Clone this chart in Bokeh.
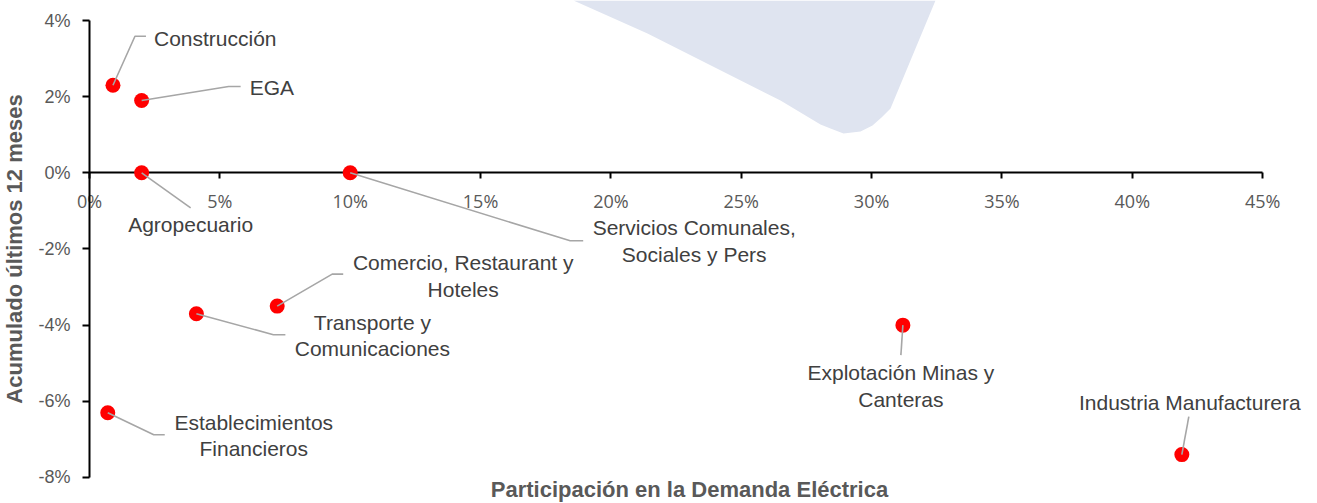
from bokeh.plotting import figure
from bokeh.models import FixedTicker, PrintfTickFormatter, Label
from bokeh.core.properties import value
from bokeh.embed import file_html
from bokeh.resources import INLINE

# ---------------- data ----------------
sectors = [
    "Construcción",
    "EGA",
    "Agropecuario",
    "Servicios Comunales,\nSociales y Pers",
    "Comercio, Restaurant y\nHoteles",
    "Transporte y\nComunicaciones",
    "Establecimientos\nFinancieros",
    "Explotación Minas y\nCanteras",
    "Industria Manufacturera",
]
participation = [0.9, 2.0, 2.0, 10.0, 7.2, 4.1, 0.7, 31.2, 41.9]   # % share of electricity demand
growth = [2.3, 1.9, 0.0, 0.0, -3.5, -3.7, -6.3, -4.0, -7.4]          # % accumulated last 12 months
x_ticks = [0, 5, 10, 15, 20, 25, 30, 35, 40, 45]
y_ticks = [-8, -6, -4, -2, 0, 2, 4]

# ---------------- layout (pixels) ----------------
W, H = 1317, 503
X0 = 89                 # canvas x of the 0 % value
PX_X = 26.07            # pixels per 1 % on x
PX_Y = 38.08            # pixels per 1 % on y
TOP4 = 20               # canvas y of the 4 % tick
x_start = -X0 / PX_X
x_end = (W - X0) / PX_X
y_end = 4 + TOP4 / PX_Y
y_start = y_end - H / PX_Y

# label leader geometry as pixel offsets from each point (dx right, dy down)
elbow_off = [(22, -49), (87, -14), (49, 35), (220, 68), (55, -32), (77, 21), (46, 22), (-2, 30), (7, -38)]
end_off = [(33, -49), (99, -14), (49, 35), (233, 68), (66, -32), (89, 21), (57, 22), (-2, 30), (7, -38)]
text_off = [(41, -47), (108, -13), (49, 52), (344, 68), (186, -30), (176, 22), (146, 23), (-2, 61), (8, -52)]
text_align = ["left", "left", "center", "center", "center", "center", "center", "center", "center"]

def dx(px):
    return px / PX_X

def dy(py):
    return -py / PX_Y

p = figure(width=W, height=H, output_backend="svg", toolbar_location=None,
           x_range=(x_start, x_end), y_range=(y_start, y_end),
           min_border_left=0, min_border_right=0, min_border_top=0, min_border_bottom=0)
p.outline_line_color = None
p.grid.visible = False
p.background_fill_color = "white"
p.border_fill_color = "white"

# background watermark shape (image pixel outline converted to data space)
wm_px = [(573, 0), (647, 33), (780, 100), (820, 124), (830, 128), (843, 133), (860, 131),
         (872, 125), (881, 117), (890, 108), (935, 0)]
wm_x = [x_start + px / PX_X for px, py in wm_px]
wm_y = [y_end - py / PX_Y for px, py in wm_px]
p.patch(wm_x, wm_y, fill_color="#DFE4F0", line_color=None, level="underlay")

# axes crossing at the origin
p.xaxis.fixed_location = 0
p.yaxis.fixed_location = 0
for ax in (p.xaxis[0], p.yaxis[0]):
    ax.axis_line_color = "black"
    ax.axis_line_width = 2
    ax.major_tick_line_color = "black"
    ax.major_tick_line_width = 2
    ax.minor_tick_line_color = None
    ax.major_tick_in = 0
    ax.major_label_text_color = "#595959"
    ax.major_label_text_font_size = "18px"
    ax.level = "underlay"

xa = p.xaxis[0]
xa.ticker = FixedTicker(ticks=x_ticks)
xa.formatter = PrintfTickFormatter(format="%d%%")
xa.bounds = (0, 45)
xa.major_tick_out = 6
xa.major_label_standoff = 10
xa.major_label_text_font = "Open Sans"

ya = p.yaxis[0]
ya.ticker = FixedTicker(ticks=y_ticks)
ya.formatter = PrintfTickFormatter(format="%d%%")
ya.bounds = (-8, 4)
ya.major_tick_out = 7
ya.major_label_standoff = 12
ya.major_label_text_font = "Liberation Sans"
ya.axis_label = "Acumulado últimos 12 meses"
ya.axis_label_text_font = "Liberation Sans"
ya.axis_label_text_font_style = "bold"
ya.axis_label_text_font_size = "22px"
ya.axis_label_text_color = "#595959"
ya.axis_label_standoff = 8

# points
p.scatter(participation, growth, size=15, fill_color="#FF0000", line_color=None)

# leader lines
lx, ly = [], []
for xv, yv, e, f in zip(participation, growth, elbow_off, end_off):
    lx.append([xv, xv + dx(e[0]), xv + dx(f[0])])
    ly.append([yv, yv + dy(e[1]), yv + dy(f[1])])
p.multi_line(lx, ly, line_color="#A6A6A6", line_width=1.6)

# labels
for name, xv, yv, t, al in zip(sectors, participation, growth, text_off, text_align):
    p.text(x=[xv + dx(t[0])], y=[yv + dy(t[1])], text=[name],
           text_font=value("Liberation Sans"), text_font_size="21px",
           text_color="#404040", text_align=al, text_baseline="middle",
           text_line_height=1.15)

# x-axis title at the bottom
p.add_layout(Label(x=x_start + 689 / PX_X, y=y_end - 489 / PX_Y,
                   text="Participación en la Demanda Eléctrica",
                   text_font="Liberation Sans", text_font_style="bold",
                   text_font_size="22px", text_color="#595959",
                   text_align="center", text_baseline="middle"))

open("out.html", "w").write(file_html(p, INLINE))
